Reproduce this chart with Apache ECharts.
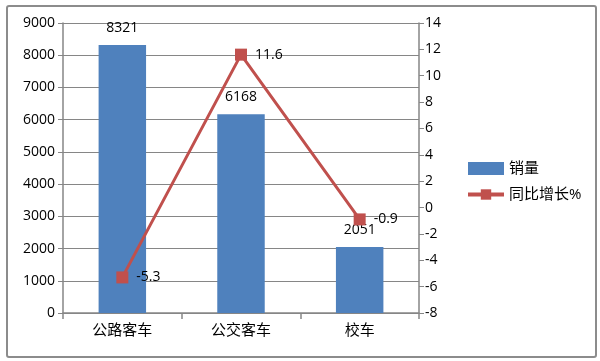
<!DOCTYPE html>
<html><head><meta charset="utf-8">
<script src="https://cdn.jsdelivr.net/npm/echarts@6/dist/echarts.min.js"></script>
<style>html,body{margin:0;padding:0;background:#fff}#c{width:600px;height:361px}
#frame{position:absolute;left:6px;top:5px;width:587px;height:349px;border:2px solid #8c8c8c;border-radius:3px;pointer-events:none}</style>
</head><body><div id="c"></div><div id="frame"></div>
<script>
const categories = ['公路客车', '公交客车', '校车'];
const sales = [8321, 6168, 2051];
const growth = [-5.3, 11.6, -0.9];
const leftTicks = [0, 9000, 1000];
const rightTicks = [-8, 14, 2];

const font = "'Open Sans', 'Noto Sans CJK SC', sans-serif";
const chart = echarts.init(document.getElementById('c'), null, {renderer: 'canvas'});
chart.setOption({
  animation: false,
  textStyle: {fontFamily: font},
  grid: {left: 63, right: 181, top: 23, bottom: 48},
  legend: {
    orient: 'vertical', left: 461, top: 156, itemGap: 11,
    itemWidth: 36, itemHeight: 13,
    textStyle: {fontSize: 15, color: '#000', fontFamily: font},
    data: [{name: '销量', icon: 'rect'}, {name: '同比增长%', lineStyle: {width: 4}}]
  },
  xAxis: {
    type: 'category', data: categories,
    axisLine: {lineStyle: {color: '#868686', width: 1.5}},
    axisTick: {show: true, alignWithLabel: false, length: 6, lineStyle: {color: '#868686', width: 1.5}},
    axisLabel: {fontSize: 15, color: '#000', margin: 10, fontFamily: font}
  },
  yAxis: [{
    type: 'value', min: leftTicks[0], max: leftTicks[1], interval: leftTicks[2],
    axisLine: {show: true, lineStyle: {color: '#868686', width: 1.5}},
    axisTick: {show: true, length: 5, lineStyle: {color: '#868686'}},
    splitLine: {lineStyle: {color: '#868686', width: 1.2}},
    axisLabel: {fontSize: 14, color: '#000', margin: 8, fontFamily: font, formatter: v => String(v)}
  }, {
    type: 'value', min: rightTicks[0], max: rightTicks[1], interval: rightTicks[2],
    position: 'right',
    axisLine: {show: true, lineStyle: {color: '#868686', width: 1.5}},
    axisTick: {show: true, length: 5, lineStyle: {color: '#868686'}},
    splitLine: {show: false},
    axisLabel: {fontSize: 14, color: '#000', margin: 6, fontFamily: font, formatter: v => String(v)}
  }],
  series: [{
    name: '销量', type: 'bar', data: sales, barWidth: '40%',
    itemStyle: {color: '#4F81BD'},
    label: {show: true, position: 'top', distance: 10, fontSize: 14, color: '#000', fontFamily: font}
  }, {
    name: '同比增长%', type: 'line', yAxisIndex: 1, data: growth,
    lineStyle: {color: '#C0504D', width: 3},
    itemStyle: {color: '#C0504D'},
    symbol: 'rect', symbolSize: 12, z: 5,
    label: {show: true, position: 'right', distance: 8, fontSize: 14, color: '#000', fontFamily: font}
  }]
});
</script></body></html>
